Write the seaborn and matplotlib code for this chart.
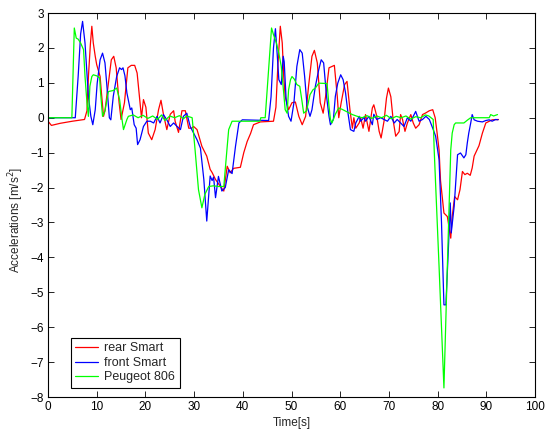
import matplotlib
matplotlib.use("Agg")
import matplotlib.pyplot as plt
import seaborn as sns
import pandas as pd

# ---------------- data ----------------
series_names = ["rear Smart", "front Smart", "Peugeot 806"]
series_colors = ["#ff0000", "#0000ff", "#00ff00"]

rear_t = [0, 0.7, 2.5, 5.0, 7.5, 8.0, 8.3, 8.7, 9.0, 9.3, 9.7, 10.0, 10.4, 10.7, 11.0, 11.4,
          11.7, 12.4, 13.0, 13.5, 14.0, 14.6, 15.0, 15.7, 16.4, 17.1, 17.8, 18.3, 18.9, 19.2,
          19.6, 20.1, 20.6, 21.3, 22.0, 22.7, 23.2, 23.7, 24.4, 25.1, 25.8, 26.1, 26.8, 27.5,
          28.2, 28.9, 29.5, 29.9, 30.6, 31.6, 32.6, 33.3, 33.7, 34.4, 35.4, 36.1, 36.8, 37.4,
          38.1, 39.5, 40.2, 40.9, 41.6, 42.2, 43.6, 46.3, 46.8, 47.2, 47.7, 48.1, 48.4, 48.7,
          49.4, 50.1, 50.8, 51.5, 52.2, 52.9, 53.5, 54.2, 54.7, 55.3, 55.9, 56.5, 57.0, 57.7,
          58.3, 58.8, 59.4, 59.7, 60.2, 60.9, 61.4, 62.0, 62.5, 62.8, 63.2, 63.9, 64.2, 64.7,
          65.2, 65.9, 66.6, 66.9, 67.5, 68.0, 68.4, 69.0, 69.5, 69.9, 70.4, 70.9, 71.4, 72.1,
          72.4, 72.8, 73.3, 73.8, 74.5, 75.0, 75.5, 76.2, 76.9, 77.6, 78.3, 79.0, 79.5, 79.9,
          80.3, 80.6, 81.3, 82.0, 82.7, 83.0, 83.5, 84.1, 84.6, 85.1, 85.6, 86.1, 86.7, 87.1,
          87.5, 88.5, 89.2, 89.9, 90.6, 91.2, 92.5]
rear_a = [-0.10, -0.22, -0.16, -0.10, -0.05, 0.20, 1.18, 2.10, 2.62, 2.14, 1.76, 1.52, 1.33, 1.18,
          0.67, 0.04, 0.20, 1.00, 1.66, 1.76, 1.43, 0.43, -0.05, 0.43, 1.43, 1.50, 1.50, 1.28,
          0.43, 0.00, 0.52, 0.30, -0.44, -0.63, -0.34, 0.23, 0.50, 0.10, -0.34, 0.10, 0.20,
          -0.10, -0.42, 0.20, 0.20, -0.30, -0.30, -0.25, -0.34, -0.82, -1.10, -1.48, -1.57,
          -1.77, -1.97, -2.10, -1.39, -1.58, -1.45, -1.42, -1.00, -0.68, -0.45, -0.20, -0.12,
          -0.10, 0.30, 1.50, 2.62, 2.14, 1.18, 0.61, 0.23, 0.43, 0.45, 0.04, -0.20, 0.04, 0.90,
          1.76, 1.93, 1.57, 0.43, 0.13, 0.61, 1.43, 1.47, 1.50, 0.61, 0.00, 0.43, 0.95, 1.04,
          0.23, -0.30, 0.00, -0.30, -0.15, 0.00, -0.30, 0.09, -0.39, 0.28, 0.37, 0.05, -0.39,
          -0.58, -0.10, 0.56, 0.85, 0.60, -0.10, -0.53, -0.40, 0.09, -0.05, -0.39, -0.15, 0.09,
          -0.15, -0.30, -0.20, 0.09, 0.14, 0.20, 0.23, 0.00, -0.44, -0.92, -1.80, -2.73, -2.83,
          -3.45, -2.83, -2.26, -2.35, -2.06, -1.54, -1.63, -1.59, -1.65, -1.44, -1.10, -0.80,
          -0.44, -0.15, -0.10, -0.06, -0.05]

front_t = [0, 5.6, 6.2, 6.7, 7.1, 7.6, 8.0, 8.3, 8.8, 9.2, 9.7, 10.1, 10.7, 11.2, 11.7, 12.1,
           12.6, 12.9, 13.4, 14.1, 14.7, 15.1, 15.4, 15.8, 16.2, 16.9, 17.2, 17.7, 18.1, 18.4,
           18.9, 19.6, 20.3, 21.0, 21.7, 22.4, 23.0, 23.7, 24.4, 25.1, 25.8, 26.5, 27.2, 27.8,
           28.5, 29.2, 29.9, 30.6, 31.3, 32.0, 32.6, 33.0, 33.3, 33.7, 34.0, 34.4, 35.0, 35.7,
           36.4, 37.1, 37.8, 38.5, 39.2, 39.9, 45.3, 45.8, 46.3, 46.7, 47.0, 47.4, 47.9, 48.3,
           48.5, 48.9, 49.4, 49.9, 50.5, 51.1, 51.7, 52.2, 52.7, 53.2, 53.8, 54.2, 54.9, 55.6,
           56.1, 56.6, 57.2, 57.7, 58.0, 58.6, 59.0, 59.5, 60.1, 60.6, 61.1, 61.6, 62.1, 62.8,
           63.2, 63.9, 64.2, 64.9, 65.2, 65.9, 66.6, 66.9, 67.5, 68.3, 69.0, 69.7, 70.4, 71.1,
           71.7, 72.4, 73.1, 73.8, 74.5, 75.5, 76.2, 76.9, 77.6, 78.3, 79.0, 79.6, 80.3, 80.8,
           81.3, 81.7, 82.2, 82.6, 82.8, 83.4, 84.1, 84.7, 85.4, 85.8, 86.1, 86.4, 86.8, 87.1,
           87.5, 88.2, 89.2, 89.9, 90.6, 91.2, 91.9, 92.4]
front_a = [0.00, 0.00, 1.20, 2.40, 2.76, 2.14, 1.27, 0.61, 0.04, -0.20, 0.23, 0.99, 1.66, 1.85,
           1.57, 0.90, 0.00, -0.06, 0.61, 1.18, 1.43, 1.38, 1.43, 1.20, 0.71, 0.23, 0.28, -0.20,
           -0.30, -0.77, -0.63, -0.25, -0.10, -0.10, -0.15, 0.04, -0.15, 0.09, -0.06, -0.25,
           -0.15, -0.25, -0.34, 0.04, 0.13, -0.25, -0.44, -0.63, -0.87, -1.77, -2.96, -2.20,
           -1.67, -1.80, -1.70, -2.29, -1.68, -2.10, -2.00, -1.49, -1.60, -0.82, -0.15, -0.06,
           -0.08, 0.60, 2.00, 2.55, 1.95, 1.09, 0.95, 1.76, 1.60, 0.52, 0.04, -0.10, 0.43, 1.47,
           1.95, 1.85, 1.18, 0.33, 0.04, 0.23, 0.90, 1.38, 1.66, 1.57, 0.61, 0.04, -0.20, -0.05,
           0.61, 0.99, 1.23, 1.09, 0.71, 0.13, -0.34, -0.39, -0.15, 0.04, -0.10, 0.01, -0.10,
           0.04, -0.20, 0.10, -0.05, 0.00, -0.05, -0.10, 0.04, -0.15, -0.05, -0.15, -0.25, 0.00,
           -0.10, 0.18, -0.10, -0.05, 0.04, -0.05, -0.30, -0.53, -1.20, -3.00, -5.36, -5.36,
           -3.80, -2.44, -3.30, -2.54, -1.06, -1.01, -1.15, -1.06, -0.72, -0.44, -0.15, 0.09,
           -0.06, -0.10, -0.12, -0.08, -0.06, -0.10, -0.05, -0.06]

peug_t = [0, 4.9, 5.4, 5.8, 6.2, 6.7, 7.3, 7.6, 8.0, 8.3, 8.6, 9.0, 9.3, 10.0, 10.6, 10.8, 11.2,
          11.7, 12.4, 13.4, 14.1, 14.7, 15.2, 15.5, 16.2, 16.5, 17.5, 18.5, 19.5, 20.5, 21.5,
          22.5, 23.3, 24.0, 25.0, 26.0, 27.0, 27.8, 28.5, 29.6, 30.2, 30.9, 31.6, 32.2, 33.0,
          34.0, 35.0, 36.1, 36.8, 37.1, 37.8, 43.5, 43.7, 44.6, 45.9, 46.3, 46.9, 47.4, 47.9,
          48.4, 48.7, 49.1, 49.4, 49.8, 50.1, 50.6, 51.1, 51.7, 52.2, 52.5, 53.1, 53.8, 54.4,
          54.9, 55.6, 57.3, 57.7, 58.0, 58.3, 59.0, 59.7, 60.4, 61.1, 61.8, 62.5, 63.5, 64.5,
          65.5, 66.5, 67.5, 68.5, 69.5, 70.5, 71.5, 72.5, 73.5, 74.5, 75.5, 76.5, 77.5, 78.2,
          79.1, 79.3, 80.3, 81.3, 82.0, 82.7, 83.0, 83.4, 83.7, 85.4, 86.2, 86.8, 90.6, 90.9,
          91.5, 92.3]
peug_a = [0.00, 0.00, 2.57, 2.28, 2.25, 2.14, 1.95, 1.18, 0.43, 0.04, 0.90, 1.18, 1.23, 1.20,
          1.14, 0.71, 0.04, 0.20, 0.75, 0.78, 0.85, 0.52, -0.05, -0.34, -0.05, 0.04, 0.08, 0.00,
          0.07, -0.02, 0.05, -0.05, 0.08, -0.08, 0.05, 0.00, 0.06, -0.03, 0.05, 0.00, -0.92,
          -2.06, -2.58, -2.20, -1.97, -1.95, -1.97, -1.97, -0.82, -0.34, -0.10, -0.10, 0.00,
          0.00, 2.57, 2.38, 2.14, 1.85, 1.47, 0.71, 0.23, 0.13, 0.80, 1.09, 1.18, 1.10, 0.95,
          0.90, 0.43, 0.13, 0.20, 0.66, 0.80, 0.85, 0.99, 0.98, 0.33, -0.05, -0.15, 0.10, 0.28,
          0.24, 0.19, 0.14, 0.09, 0.04, 0.00, 0.06, -0.02, 0.05, 0.00, 0.07, -0.03, 0.04, 0.00,
          0.05, -0.04, 0.03, 0.00, 0.08, 0.05, -0.05, -0.92, -4.26, -7.74, -4.26, -0.92, -0.44,
          -0.20, -0.15, -0.15, -0.06, 0.00, 0.00, 0.09, 0.05, 0.09]

x_ticks = list(range(0, 101, 10))
y_ticks = list(range(-8, 4))

# ---------------- build table ----------------
frames = []
for name, t, a in zip(series_names, [rear_t, front_t, peug_t], [rear_a, front_a, peug_a]):
    frames.append(pd.DataFrame({"t": t, "a": a, "series": name}))
df = pd.concat(frames, ignore_index=True)

sns.set_style("ticks")
plt.rcParams["font.family"] = ["Liberation Sans", "DejaVu Sans"]
plt.rcParams["axes.unicode_minus"] = True

W, H = 550, 432
fig = plt.figure(figsize=(W / 100, H / 100), dpi=100)
ax = fig.add_axes([48 / W, 1 - 397 / H, 487 / W, 384 / H])

sns.lineplot(data=df, x="t", y="a", hue="series", hue_order=series_names,
             palette=dict(zip(series_names, series_colors)), sort=False,
             estimator=None, linewidth=0.9, ax=ax)

ax.set_xlim(0, 100)
ax.set_ylim(-8, 3)
ax.set_xticks(x_ticks)
ax.set_yticks(y_ticks)
ax.tick_params(direction="in", top=True, right=True, length=4, width=0.6,
               labelsize=8.5, colors="black", pad=3)
for s in ax.spines.values():
    s.set_visible(True)
    s.set_color("black")
    s.set_linewidth(0.8)

ax.set_xlabel("Time[s]", fontsize=8.5, labelpad=3)
ax.set_ylabel("Accelerations [m/s$^2$]", fontsize=8.5)
ax.yaxis.set_label_coords(-0.045, 0.46)

leg = ax.legend(loc="lower left", bbox_to_anchor=(0.0466, 0.024), borderaxespad=0,
                fontsize=9, frameon=True, fancybox=False, framealpha=1,
                edgecolor="black", handlelength=1.8, handletextpad=0.55,
                labelspacing=0.2, borderpad=0.35)
leg.get_frame().set_linewidth(0.8)
for ln in leg.get_lines():
    ln.set_linewidth(0.9)

fig.savefig("out.png", dpi=100)
